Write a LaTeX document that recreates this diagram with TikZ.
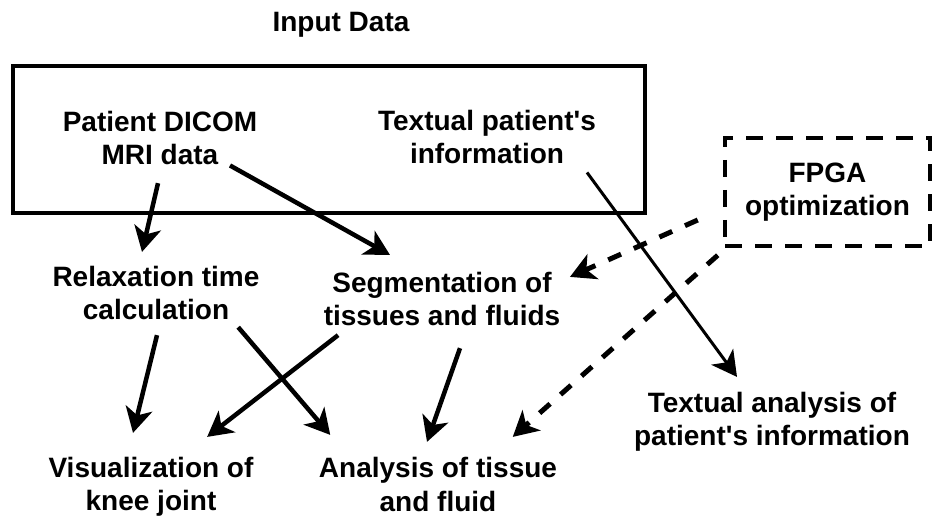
\documentclass[tikz,border=0pt]{standalone}
\usepackage{fontspec}
\setmainfont{Liberation Sans}[Ligatures=TeXOff]
\usetikzlibrary{arrows.meta}

\begin{document}
\begin{tikzpicture}[x=1pt,y=-1pt,
  lbl/.style={font=\bfseries\fontsize{28}{33}\selectfont,align=center,inner sep=0pt,anchor=base},
  arr/.style={line width=4.5pt,-{Stealth[length=25pt,width=27pt,inset=7pt]}},
  darr/.style={arr,line width=5pt,dash pattern=on 14pt off 14pt},
  frame/.style={draw,line width=4.5pt}]
\useasboundingbox (0,0) rectangle (932,518);
\node[lbl] (input) at (341,32) {Input Data};
\node[frame,minimum width=632pt,minimum height=147pt] (inbox) at (329,139.5) {};
\node[lbl] (dicom) at (160,165) {Patient DICOM\\MRI data};
\node[lbl] (textinfo) at (487,164) {Textual patient's\\information};
\node[lbl,frame,anchor=center,dash pattern=on 17pt off 13pt,minimum width=205pt,minimum height=108pt] (fpga) at (827.5,192) {FPGA\\optimization};
\node[lbl] (relax) at (156,320) {Relaxation time\\calculation};
\node[lbl] (seg) at (442,326) {Segmentation of\\tissues and fluids};
\node[lbl] (textan) at (772,446) {Textual analysis of\\patient's information};
\node[lbl] (vis) at (151,510) {Visualization of\\knee joint};
\node[lbl] (anal) at (438,511) {Analysis of tissue\\and fluid};
\draw[arr] ([shift={(-2,17.7)}]dicom.south) -- ([shift={(-14,-14.6)}]relax.north);
\draw[arr] ([shift={(70,0)}]dicom.south) -- ([shift={(-52,-17.6)}]seg.north);
\draw[arr,line width=3pt] ([shift={(100,8)}]textinfo.south) -- ([shift={(-35,-15.6)}]textan.north);
\draw[darr] ([shift={(-25,28)}]fpga.west) -- ([shift={(9.5,4.4)}]seg.north east);
\draw[darr] ([shift={(-5,7)}]fpga.south west) -- ([shift={(-44.5,-20.6)}]anal.north east);
\draw[arr] ([shift={(1,14.7)}]relax.south) -- ([shift={(-18,-23.6)}]vis.north);
\draw[arr] ([shift={(-21.5,6.7)}]relax.south east) -- ([shift={(11.5,-22.6)}]anal.north west);
\draw[arr] ([shift={(14.5,8.7)}]seg.south west) -- ([shift={(-46.5,-19.6)}]vis.north east);
\draw[arr] ([shift={(18,21.7)}]seg.south) -- ([shift={(-11,-15.6)}]anal.north);
\end{tikzpicture}
\end{document}
